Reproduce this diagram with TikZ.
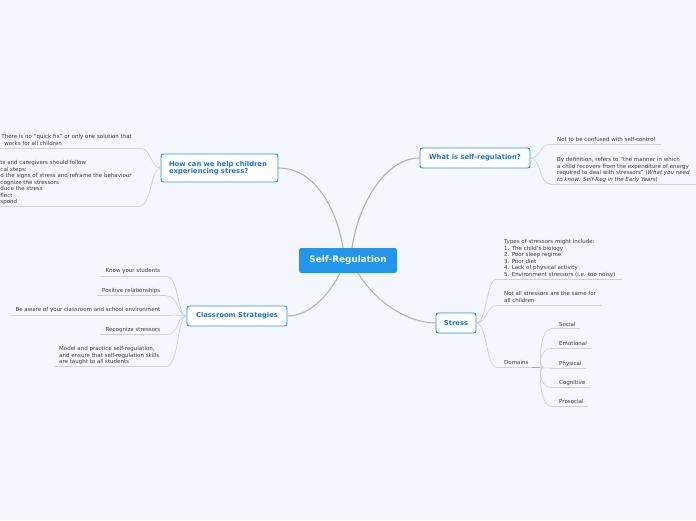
\documentclass[tikz,border=0pt]{standalone}
\usepackage{fontspec}
\setmainfont{DejaVu Sans}
\definecolor{bg}{HTML}{F4F7FD}
\definecolor{centerc}{HTML}{2196EA}
\definecolor{topicb}{HTML}{2E8BEA}
\definecolor{topict}{HTML}{1C74D8}
\definecolor{leafc}{HTML}{3A3A3A}
\definecolor{linec}{HTML}{CDD1D8}
\definecolor{mainl}{HTML}{B3B3B3}
\definecolor{darkl}{HTML}{A8A8A8}
\begin{document}
\begin{tikzpicture}[x=1pt,y=-1pt,
  leaf/.style={font=\fontsize{5.5}{6.45}\selectfont, text=leafc, inner sep=0pt, align=left, yshift=-0.9pt},
  topic/.style={draw=topicb, fill=white, line width=0.9pt, rounded corners=2.5pt, text=topict,
    font=\fontsize{6.8}{7.6}\selectfont\bfseries, inner sep=0pt},
  uline/.style={draw=linec, line width=0.7pt},
  conn/.style={draw=linec, line width=0.7pt},
  mainc/.style={draw=mainl, line width=1.1pt}]
\useasboundingbox[fill=bg] (0,0) rectangle (696,520);

% central and topic nodes
\node[fill=centerc, rounded corners=2.5pt, minimum width=98pt, minimum height=25pt, text=white,
  font=\fontsize{8.9}{10}\selectfont\bfseries, inner sep=0pt] (c) at (348,260.5) {Self-Regulation};
\node[topic, minimum width=117pt, minimum height=28pt, align=left, text width=101pt] (how) at (219.5,168) {How can we help children\\experiencing stress?};
\node[topic, minimum width=110pt, minimum height=20pt] (what) at (475,158) {What is self-regulation?};
\node[topic, minimum width=40pt, minimum height=20pt] (stress) at (456,323) {Stress};
\node[topic, minimum width=100pt, minimum height=20pt] (cls) at (237,316) {Classroom Strategies};

\coordinate (c-hw) at (343,248);
\coordinate (c-wt) at (352,248);
\coordinate (c-st) at (358,273);
\coordinate (c-cl) at (340,273);

% main connectors
\draw[mainc] (how.east) .. controls (318,168) and (338,215) .. (c-hw);
\draw[mainc] (c-wt) .. controls (358,205) and (385,158) .. (what.west);
\draw[mainc] (c-st) .. controls (378,305) and (410,323) .. (stress.west);
\draw[mainc] (cls.east) .. controls (312,316) and (332,290) .. (c-cl);

% ---- What is self-regulation?
\node[leaf, anchor=north west] (nc) at (557,136.6) {Not to be confused with self-control};
\coordinate (nc-a) at (550,144.5); \coordinate (nc-b) at (661,144.5);
\node[leaf, anchor=north west] (bd) at (557,156.4) {By definition, refers to "the manner in which\\a child recovers from the expenditure of energy\\required to deal with stressors" (\textit{What you need}\\\textit{to know: Self-Reg in the Early Years})};
\coordinate (bd-a) at (550,184); \coordinate (bd-b) at (696,184);
\draw[uline] (nc-a) -- (nc-b);
\draw[uline] (bd-a) -- (bd-b);
\draw[conn] (what.east) .. controls (541,158) and (539,144.5) .. (nc-a);
\draw[conn] (what.east) .. controls (541,158) and (539,184) .. (bd-a);

% ---- Stress
\node[leaf, anchor=north west] (ty) at (504,238.6) {Types of stressors might include:\\1. The child's biology\\2. Poor sleep regime\\3. Poor diet\\4. Lack of physical activity\\5. Environment stressors (i.e. too noisy)};
\coordinate (ty-a) at (497,279); \coordinate (ty-b) at (622,279);
\node[leaf, anchor=north west] (na) at (504,290.6) {Not all stressors are the same for\\all children};
\coordinate (na-a) at (497,305.5); \coordinate (na-b) at (602,305.5);
\node[leaf, anchor=north west] (dom) at (504,359.6) {Domains};
\coordinate (dom-a) at (497,367.5); \coordinate (dom-m) at (532,367.5); \coordinate (dom-b) at (543,367.5);
\draw[uline] (ty-a) -- (ty-b);
\draw[uline] (na-a) -- (na-b);
\draw[uline] (dom-a) -- (dom-m);
\draw[draw=darkl, line width=1pt] (dom-m) -- (dom-b);
\draw[conn] (stress.east) .. controls (487,323) and (486,279) .. (ty-a);
\draw[conn] (stress.east) .. controls (487,323) and (486,305.5) .. (na-a);
\draw[conn] (stress.east) .. controls (487,323) and (486,367.5) .. (dom-a);

% Domains sub-leaves
\foreach \nm/\txt/\yy/\ul/\xe in {so/Social/323.3/328.8/580, em/Emotional/342.3/348.3/591, ph/Physical/362.3/368/585.5, co/Cognitive/381.3/387.3/590, pr/Prosocial/401/406.7/588}{
  \node[leaf, anchor=north west] (\nm) at (559,\yy-2.5) {\txt};
  \coordinate (\nm-a) at (551,\ul); \coordinate (\nm-b) at (\xe,\ul);
  \draw[uline] (\nm-a) -- (\nm-b);
  \draw[conn] (dom-b) .. controls (538,367.5) and (540,\ul) .. (\nm-a);
}

% ---- Classroom Strategies
\node[leaf, anchor=north east] (ky) at (160.5,267.6) {Know your students};
\coordinate (ky-a) at (101,276); \coordinate (ky-b) at (166,276);
\node[leaf, anchor=north east] (pr2) at (160.5,287.6) {Positive relationships};
\coordinate (pr2-a) at (97,295.7); \coordinate (pr2-b) at (166,295.7);
\node[leaf, anchor=north east] (ba) at (160.5,306.6) {Be aware of your classroom and school environment};
\coordinate (ba-a) at (11,315); \coordinate (ba-b) at (172,315);
\node[leaf, anchor=north east] (rs) at (160.5,326.6) {Recognize stressors};
\coordinate (rs-a) at (100,334.7); \coordinate (rs-b) at (166,334.7);
\node[leaf, anchor=north west] (mp) at (59,345.6) {Model and practice self-regulation,\\and ensure that self-regulation skills\\are taught to all students};
\coordinate (mp-a) at (55,366.7); \coordinate (mp-b) at (166,366.7);
\foreach \nm in {ky,pr2,ba,rs,mp}{
  \draw[uline] (\nm-a) -- (\nm-b);
}
\draw[conn] (cls.west) .. controls (177,316) and (179,276) .. (ky-b);
\draw[conn] (cls.west) .. controls (177,316) and (179,295.7) .. (pr2-b);
\draw[conn] (cls.west) .. controls (180,316) and (178,315) .. (ba-b);
\draw[conn] (cls.west) .. controls (177,316) and (179,334.7) .. (rs-b);
\draw[conn] (cls.west) .. controls (177,316) and (179,366.7) .. (mp-b);

% ---- How can we help children
\node[leaf, anchor=north west] (tq) at (1.3,133.6) {There is no "quick fix" or only one solution that\\\hspace{3pt}works for all children};
\coordinate (tq-a) at (0,148.3); \coordinate (tq-b) at (140,148.3);
\node[leaf, anchor=north west] (pc) at (0.3,159.6) {ts and caregivers should follow\\cal steps:\\d the signs of stress and reframe the behaviour\\cognize the stressors\\duce the stress\\flect\\spond};
\coordinate (pc-a) at (0,206); \coordinate (pc-b) at (140,206);
\draw[uline] (tq-a) -- (tq-b);
\draw[uline] (pc-a) -- (pc-b);
\draw[conn] (how.west) .. controls (151,168) and (151,148.3) .. (tq-b);
\draw[conn] (how.west) .. controls (151,168) and (151,206) .. (pc-b);
\end{tikzpicture}
\end{document}
